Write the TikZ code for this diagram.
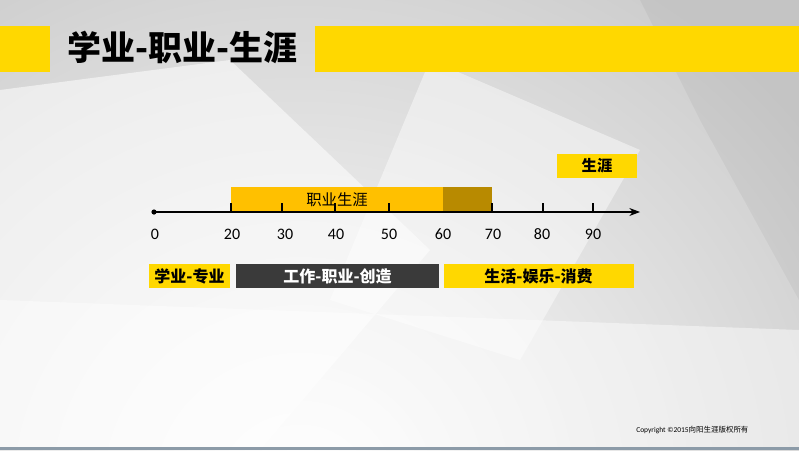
\documentclass[tikz,border=0pt]{standalone}
\usepackage{fontspec}
\setmainfont{Carlito}
\newfontfamily\cjk{Noto Sans CJK SC}
\usepackage{xcolor}
\usetikzlibrary{arrows.meta}
\definecolor{ppyellow}{HTML}{FFD800}
\definecolor{ppamber}{HTML}{FFC000}
\definecolor{ppgold}{HTML}{B88A00}
\definecolor{ppdark}{HTML}{3A3A3A}
\definecolor{ppline}{HTML}{8C9BA8}

\begin{document}
\begin{tikzpicture}[x=0.75pt,y=-0.75pt,
    bar/.style={inner sep=0pt, minimum height=18pt},
    tag/.style={font=\cjk\bfseries\fontsize{12}{12}\selectfont},
    num/.style={font=\fontsize{12}{12}\selectfont}]
                \begin{scope}
                \clip (0,0) rectangle (799,450);
                \shade[inner color=white, outer color=black!20] (-350,-120) rectangle (950,1100);
                \fill[white, opacity=0.55] (0,90) -- (230,60) -- (430,250) -- (260,450) -- (0,450) -- cycle;
                \fill[white, opacity=0.45] (430,60) -- (640,150) -- (520,360) -- (330,300) -- cycle;
                \fill[white, opacity=0.45] (0,300) -- (799,330) -- (799,450) -- (0,450) -- cycle;
                \fill[black, opacity=0.04] (640,0) -- (799,0) -- (799,300) -- (700,120) -- cycle;
                \end{scope}
                \fill[ppline] (0,447) rectangle (799,450);
                \node[bar, fill=ppyellow, minimum width=37.5pt, minimum height=34.5pt] (lefttab) at (25,49) {};
                \node[bar, fill=ppyellow, minimum width=363pt, minimum height=34.5pt] (righttab) at (557,49) {};
                \node[anchor=west, inner sep=0pt, font=\cjk\bfseries\fontsize{25.5}{25.5}\selectfont] (title) at (67,47) {学业-职业-生涯};
                \node[bar, fill=ppyellow, minimum width=60pt, font=\cjk\bfseries\fontsize{11.5}{11.5}\selectfont] (career) at (597,165.5) {生涯};
                \node[bar, fill=ppamber, minimum width=159pt, minimum height=19pt, font=\cjk\fontsize{11.5}{11.5}\selectfont] (work) at (337,199.3) {职业生涯};
                \node[bar, fill=ppgold, minimum width=36.75pt, minimum height=19pt] (retire) at (467.5,199.3) {};
                \coordinate (origin) at (154,212);
                \coordinate (axend) at (640,212);
                \draw[thick, -{Stealth[length=8pt]}] (origin) -- (axend);
                \fill (origin) circle (2.6);
                \foreach \x in {231,282,335,389,492,543,593}
                    \draw[thick] (\x,203) -- (\x,212);
                \node[num] (a0) at (155,234) {0};
                \foreach \x/\v in {232/20,285/30,336/40,389/50,443/60,493/70,542/80,593/90}
                    \node[num] (a\v) at (\x,234) {\v};
                \node[bar, fill=ppyellow, minimum width=60.75pt, tag] (study) at (189.5,276) {学业-专业};
                \node[bar, fill=ppdark, minimum width=152.25pt, tag, text=white] (job) at (337.5,276) {工作-职业-创造};
                \node[bar, fill=ppyellow, minimum width=142.5pt, tag] (life) at (538.5,276) {生活-娱乐-消费};
                \node[anchor=west, inner sep=0pt, font=\fontsize{5.6}{5.6}\selectfont] (copy) at (636,430) {Copyright \copyright2015{\cjk 向阳生涯版权所有}};
            \end{tikzpicture}
\end{document}
